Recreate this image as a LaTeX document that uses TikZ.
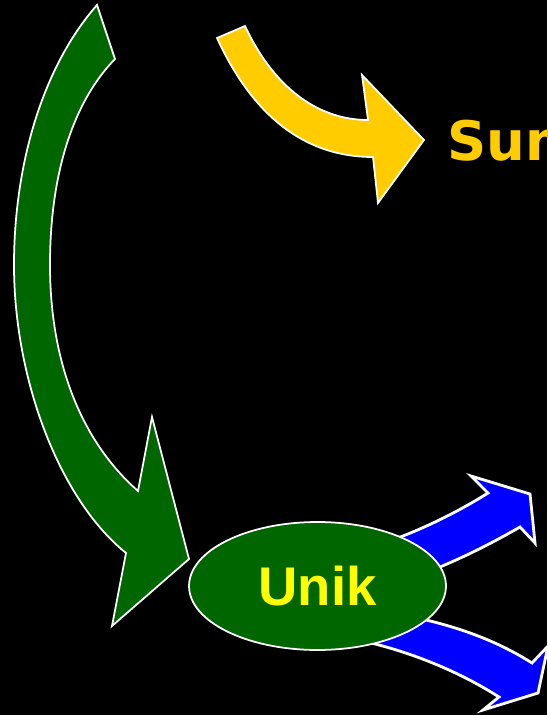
\documentclass[tikz,border=0pt]{standalone}
\usepackage{fontspec}
\setmainfont{Liberation Sans}
\newfontfamily\sumfont{DejaVu Sans}
\usetikzlibrary{shapes.geometric}

\definecolor{arrowgreen}{HTML}{006600}
\definecolor{arrowyellow}{HTML}{FFCC00}
\definecolor{arrowblue}{HTML}{0000FF}
\definecolor{textyellow}{HTML}{FFFF00}

\tikzset{
  bigarrow/.style={draw=white, line width=1pt, line join=miter},
  bluearrow/.style={bigarrow, fill=arrowblue, line width=1.6pt},
}

\begin{document}
\begin{tikzpicture}[x=0.02cm, y=-0.02cm]

% _____ Background
\fill[black] (0,0) rectangle (547,715);
\useasboundingbox (0,0) rectangle (547,715);

% _____ Green arrow (left)
\def\GreenOut{14}
\def\GreenIn{50}
\def\GreenMid{265}

\draw[bigarrow, fill=arrowgreen] (97,5)
    .. controls (40,70) and (\GreenOut,170) .. (\GreenOut,\GreenMid)
    .. controls (\GreenOut,380) and (60,500) .. (126,553)
    -- (112,626) -- (189,559) -- (152,417) -- (138,491)
    .. controls (80,440) and (\GreenIn,360) .. (\GreenIn,\GreenMid)
    .. controls (\GreenIn,170) and (75,100) .. (115,59) -- cycle;

% _____ Yellow arrow (top)
\draw[bigarrow, fill=arrowyellow] (217,38)
    .. controls (250,110) and (300,157) .. (373,157)
    -- (378,203) -- (424,140) -- (362,75) -- (368,120)
    .. controls (320,120) and (275,90) .. (245,26) -- cycle;

% _____ Blue arrows (right)
\draw[bluearrow] (340,555)
    .. controls (390,545) and (445,520) .. (488,493)
    -- (471,476) -- (530,494) -- (535,543) -- (520,527)
    .. controls (480,550) and (430,575) .. (360,595) -- cycle;

\draw[bluearrow] (340,605)
    .. controls (420,615) and (480,630) .. (532,663)
    -- (548,646) -- (538,693) -- (483,710) -- (499,697)
    .. controls (460,672) and (400,645) .. (330,635) -- cycle;

% _____ Nodes
\node[ellipse, draw=white, line width=1pt, fill=arrowgreen,
      minimum width=5.14cm, minimum height=2.56cm, inner sep=0pt,
      text=textyellow, font=\bfseries\fontsize{31}{37}\selectfont]
    (unik) at (317.5,586) {Unik};

\node[anchor=base west, inner sep=0pt, text=arrowyellow,
      font=\sumfont\bfseries\fontsize{31}{37}\selectfont]
    (sum) at (447,161) {Sum};

\end{tikzpicture}
\end{document}
